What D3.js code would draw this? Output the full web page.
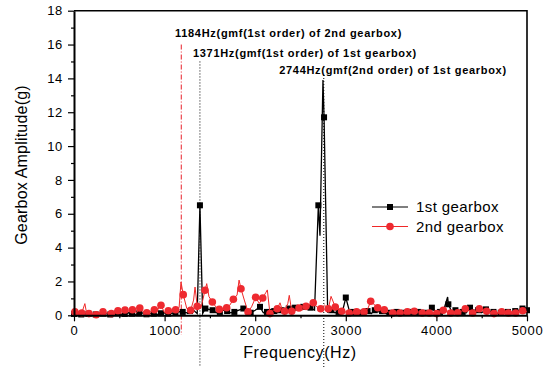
<!DOCTYPE html>
<html lang="en">
<head>
    <meta charset="UTF-8">
    <title>Gearbox spectrum</title>
    <script src="https://d3js.org/d3.v7.min.js"></script>
    <style>
        body {
            margin: 0;
            background: #fff;
            font-family: 'Liberation Sans', Arial, sans-serif;
        }

        svg {
            display: block;
        }

        .tick text {
            font-size: 13px;
            letter-spacing: 0.7px;
            fill: #000;
        }

        .note {
            font-size: 11px;
            font-weight: bold;
            letter-spacing: 0.7px;
        }
    </style>
</head>
<body>
    <svg></svg>

    <script>
        const width = 556;
        const height = 367;

        // 1st gearbox: points carrying a square marker, then extra line points between them
        const g1Marks = [
            [0, 0.08], [80, 0.05], [160, 0.08], [240, 0.05], [320, 0.1], [400, 0.05], [480, 0.12],
            [560, 0.08], [640, 0.1], [720, 0.12], [800, 0.06], [880, 0.1], [960, 0.12], [1040, 0.1],
            [1120, 0.15], [1200, 0.2], [1280, 0.25], [1390, 6.5], [1450, 0.4], [1530, 0.3], [1610, 0.2],
            [1690, 0.25], [1770, 0.2], [1869, 0.4], [1950, 0.15], [2053, 0.5], [2130, 0.2], [2210, 0.25],
            [2290, 0.3], [2370, 0.4], [2440, 0.45], [2530, 0.5], [2610, 0.45], [2697, 6.5], [2760, 11.7],
            [2840, 0.3], [2920, 0.2], [3000, 1.05], [3080, 0.2], [3160, 0.15], [3240, 0.25], [3320, 0.3],
            [3400, 0.25], [3480, 0.15], [3560, 0.2], [3640, 0.15], [3720, 0.2], [3800, 0.2], [3870, 0.15],
            [3950, 0.45], [4040, 0.2], [4132, 0.65], [4210, 0.3], [4290, 0.2], [4371, 0.45], [4460, 0.3],
            [4547, 0.35], [4630, 0.2], [4710, 0.15], [4790, 0.2], [4870, 0.25], [4950, 0.4], [5000, 0.3]
        ];
        const g1Extra = [
            [40, 0.12], [120, 0.1], [200, 0.03], [280, 0.12], [360, 0.08], [440, 0.15], [520, 0.05],
            [600, 0.15], [680, 0.06], [760, 0.14], [840, 0.1], [920, 0.05], [1000, 0.15], [1080, 0.12],
            [1160, 0.22], [1240, 0.15], [1320, 0.3], [1360, 0.1], [1420, 0.1], [1490, 0.35], [1570, 0.15],
            [1650, 0.3], [1730, 0.15], [1820, 0.3], [1910, 0.2], [2000, 0.3], [2090, 0.15], [2170, 0.35],
            [2250, 0.15], [2330, 0.35], [2400, 0.2], [2490, 0.3], [2570, 0.35], [2655, 0.3], [2715, 4.7],
            [2748, 13.9], [2800, 0.2], [2880, 0.15], [2960, 0.15], [3040, 0.25], [3120, 0.1], [3200, 0.2],
            [3280, 0.1], [3360, 0.2], [3440, 0.1], [3520, 0.25], [3600, 0.1], [3680, 0.2], [3760, 0.1],
            [3840, 0.25], [3910, 0.1], [3990, 0.2], [4080, 0.3], [4124, 1.08], [4170, 0.2], [4250, 0.25],
            [4330, 0.15], [4410, 0.3], [4500, 0.15], [4590, 0.25], [4670, 0.1], [4750, 0.25], [4830, 0.1],
            [4910, 0.3], [4980, 0.2]
        ];

        // 2nd gearbox: circle-marked points, then extra line points
        const g2Marks = [
            [10, 0.2], [85, 0.13], [165, 0.1], [245, 0.03], [320, 0.2], [412, 0.1], [485, 0.27],
            [563, 0.31], [645, 0.33], [726, 0.43], [803, 0.15], [887, 0.33], [960, 0.59], [1041, 0.27],
            [1122, 0.33], [1206, 1.22], [1288, 0.3], [1360, 0.53], [1446, 1.48], [1527, 0.79], [1604, 0.35],
            [1685, 0.45], [1759, 0.95], [1843, 1.57], [1921, 0.2], [2005, 1.06], [2083, 1.02], [2163, 0.1],
            [2244, 0.39], [2325, 0.24], [2403, 0.24], [2483, 0.43], [2561, 0.53], [2641, 0.74], [2723, 0.39],
            [2807, 0.39], [2884, 0.49], [2955, 0.24], [3038, 0.14], [3120, 0.2], [3201, 0.2], [3275, 0.83],
            [3352, 0.45], [3425, 0.33], [3518, 0.14], [3598, 0.14], [3679, 0.2], [3756, 0.24], [3844, 0.14],
            [3922, 0.14], [4003, 0.1], [4076, 0.3], [4158, 0.14], [4235, 0.15], [4319, 0.39], [4400, 0.14],
            [4474, 0.39], [4555, 0.24], [4636, 0.1], [4721, 0.2], [4794, 0.14], [4875, 0.14], [4952, 0.27]
        ];
        const g2Extra = [
            [45, 0.05], [120, 0.69], [140, 0.1], [200, 0.05], [280, 0.1], [360, 0.15], [450, 0.2],
            [525, 0.1], [600, 0.25], [690, 0.15], [765, 0.2], [845, 0.2], [920, 0.3], [1000, 0.15],
            [1080, 0.2], [1160, 0.45], [1181, 1.97], [1245, 0.4], [1320, 0.9], [1336, 1.67], [1400, 0.4],
            [1465, 1.87], [1490, 1.1], [1565, 0.5], [1645, 0.3], [1720, 0.6], [1800, 1.2], [1822, 2.08],
            [1880, 0.9], [1960, 0.5], [2045, 0.7], [2119, 1.36], [2134, 1.5], [2200, 0.3], [2274, 0.74],
            [2300, 0.3], [2360, 0.7], [2376, 1.18], [2440, 0.3], [2520, 0.3], [2600, 0.6], [2623, 0.9],
            [2680, 0.5], [2765, 0.6], [2837, 1.12], [2920, 0.3], [2995, 0.2], [3080, 0.1], [3160, 0.25],
            [3240, 0.35], [3300, 0.7], [3390, 0.3], [3470, 0.2], [3560, 0.1], [3640, 0.15], [3720, 0.15],
            [3800, 0.2], [3880, 0.1], [3960, 0.15], [4040, 0.2], [4120, 0.25], [4200, 0.2], [4280, 0.25],
            [4360, 0.3], [4440, 0.2], [4520, 0.35], [4600, 0.15], [4680, 0.15], [4760, 0.2], [4840, 0.2],
            [4920, 0.25], [5000, 0.2]
        ];

        const xTicks = [0, 1000, 2000, 3000, 4000, 5000];
        const yTicks = [0, 2, 4, 6, 8, 10, 12, 14, 16, 18];

        // reference frequencies: vertical marker lines (amplitude span) and their notes
        const refLines = [
            { f: 1184, top: 16, bottom: -1.15, color: "#e8202a", dash: "5,2,1,2" },
            { f: 1390, top: 15, bottom: -3.2, color: "#000", dash: "1,2" },
            { f: 2757, top: 14.2, bottom: -3.2, color: "#000", dash: "1,2" }
        ];
        const notes = [
            { f: 1115, a: 16.44, text: "1184Hz(gmf(1st order) of 2nd gearbox)" },
            { f: 1313, a: 15.29, text: "1371Hz(gmf(1st order) of 1st gearbox)" },
            { f: 2265, a: 14.25, text: "2744Hz(gmf(2nd order) of 1st gearbox)" }
        ];

        const svg = d3.select("svg")
            .attr("width", width)
            .attr("height", height);

        const x = d3.scaleLinear().domain([0, 5000]).range([74, 527]);
        const y = d3.scaleLinear().domain([0, 18]).range([315.3, 10.7]);

        // frame top and right
        svg.append("path")
            .attr("d", `M${x(0)},${y(18)}H${x(5000)}V${y(0)}`)
            .attr("fill", "none")
            .attr("stroke", "#000")
            .attr("stroke-width", 1.6);

        // reference lines drawn under the data
        svg.append("g").selectAll("line")
            .data(refLines)
            .enter().append("line")
            .attr("x1", d => x(d.f)).attr("x2", d => x(d.f))
            .attr("y1", d => y(d.top)).attr("y2", d => y(d.bottom))
            .attr("stroke", d => d.color)
            .attr("stroke-width", 1)
            .attr("stroke-dasharray", d => d.dash);

        const lineGen = d3.line().x(d => x(d[0])).y(d => y(d[1]));
        const merge = (a, b) => a.concat(b).sort((p, q) => p[0] - q[0]);

        // 1st gearbox
        svg.append("path")
            .datum(merge(g1Marks, g1Extra))
            .attr("d", lineGen)
            .attr("fill", "none")
            .attr("stroke", "#000")
            .attr("stroke-width", 1.3);

        svg.append("g").selectAll("rect")
            .data(g1Marks)
            .enter().append("rect")
            .attr("x", d => x(d[0]) - 3)
            .attr("y", d => y(d[1]) - 3)
            .attr("width", 6)
            .attr("height", 6)
            .attr("fill", "#000");

        // 2nd gearbox
        svg.append("path")
            .datum(merge(g2Marks, g2Extra))
            .attr("d", lineGen)
            .attr("fill", "none")
            .attr("stroke", "#f02828")
            .attr("stroke-width", 1);

        svg.append("g").selectAll("circle")
            .data(g2Marks)
            .enter().append("circle")
            .attr("cx", d => x(d[0]))
            .attr("cy", d => y(d[1]))
            .attr("r", 3.8)
            .attr("fill", "#ee2a30");

        // axes
        const xAxis = svg.append("g")
            .attr("transform", `translate(0,${y(0)})`)
            .call(d3.axisBottom(x).tickValues(xTicks).tickSize(6).tickSizeOuter(0).tickPadding(4).tickFormat(d3.format("d")));
        svg.append("g")
            .attr("transform", `translate(0,${y(0)})`)
            .call(d3.axisBottom(x).tickValues(d3.range(500, 5000, 1000)).tickSize(3).tickSizeOuter(0).tickFormat(""))
            .select(".domain").remove();

        const yAxis = svg.append("g")
            .attr("transform", `translate(${x(0)},0)`)
            .call(d3.axisLeft(y).tickValues(yTicks).tickSize(6).tickSizeOuter(0).tickPadding(5));
        svg.append("g")
            .attr("transform", `translate(${x(0)},0)`)
            .call(d3.axisLeft(y).tickValues(d3.range(1, 18, 2)).tickSize(3).tickSizeOuter(0).tickFormat(""))
            .select(".domain").remove();

        svg.selectAll(".domain").attr("stroke-width", 2);
        svg.selectAll(".tick line").attr("stroke-width", 1.2);
        xAxis.selectAll(".tick text").attr("font-family", null).attr("font-size", null);
        yAxis.selectAll(".tick text").attr("font-family", null).attr("font-size", null);

        // axis titles
        svg.append("text")
            .attr("x", 300)
            .attr("y", 358)
            .attr("text-anchor", "middle")
            .style("font-size", "16px")
            .style("letter-spacing", "0.6px")
            .text("Frequency(Hz)");

        svg.append("text")
            .attr("transform", "translate(27,165) rotate(-90)")
            .attr("text-anchor", "middle")
            .style("font-size", "16px")
            .style("letter-spacing", "0.2px")
            .text("Gearbox Amplitude(g)");

        // notes
        svg.append("g").selectAll("text")
            .data(notes)
            .enter().append("text")
            .attr("class", "note")
            .attr("x", d => x(d.f))
            .attr("y", d => y(d.a))
            .text(d => d.text);

        // legend
        const legendItems = [
            { name: "1st gearbox", color: "#000", shape: "square" },
            { name: "2nd gearbox", color: "#f02828", shape: "circle" }
        ];
        const legend = svg.append("g").attr("transform", "translate(372,207)");
        const item = legend.selectAll("g")
            .data(legendItems)
            .enter().append("g")
            .attr("transform", (d, i) => `translate(0,${i * 19.5})`);
        item.append("line")
            .attr("x1", 0).attr("x2", 36)
            .attr("stroke", d => d.color)
            .attr("stroke-width", 1.2);
        item.filter(d => d.shape === "square").append("rect")
            .attr("x", 15).attr("y", -3).attr("width", 6).attr("height", 6)
            .attr("fill", "#000");
        item.filter(d => d.shape === "circle").append("circle")
            .attr("cx", 18).attr("r", 3.8)
            .attr("fill", "#ee2a30");
        item.append("text")
            .attr("x", 44)
            .attr("y", 5)
            .style("font-size", "15px")
            .style("letter-spacing", "0.4px")
            .text(d => d.name);
    </script>
</body>
</html>
